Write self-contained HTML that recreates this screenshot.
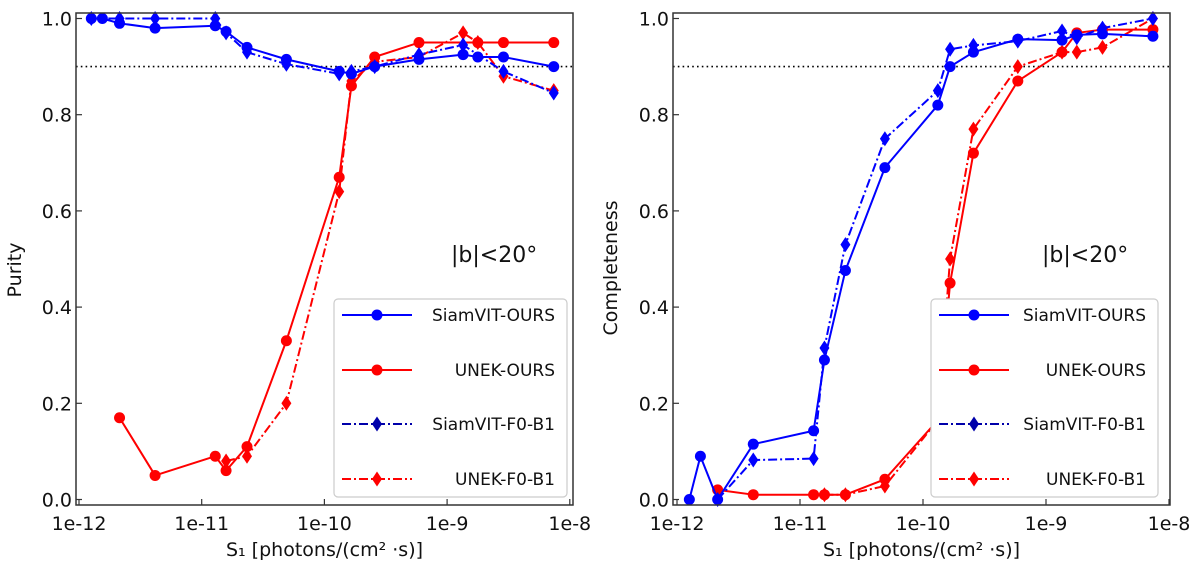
<!DOCTYPE html>
<html><head><meta charset="utf-8">
<style>
html,body{margin:0;padding:0;background:#fff;}
svg{display:block;font-family:"DejaVu Sans","Liberation Sans",sans-serif;}
</style></head>
<body>
<svg id="fig" width="1200" height="563" viewBox="0 0 1200 563" xmlns="http://www.w3.org/2000/svg"></svg>
<script>
// shared x values (flux, photons/cm^2/s)
const xVals = [1.26e-12,1.55e-12,2.14e-12,4.17e-12,1.29e-11,1.58e-11,2.34e-11,4.9e-11,1.32e-10,1.66e-10,2.57e-10,5.9e-10,1.35e-9,1.78e-9,2.88e-9,7.4e-9];
const xTickVals = [1e-12,1e-11,1e-10,1e-9,1e-8];
const xTickLabels = ["1e-12","1e-11","1e-10","1e-9","1e-8"];
const yTickVals = [0,0.2,0.4,0.6,0.8,1.0];
const yTickLabels = ["0.0","0.2","0.4","0.6","0.8","1.0"];
// Purity (left) — null = no point
const puritySiamOurs = [1.0,1.0,0.99,0.98,0.985,0.973,0.94,0.915,0.89,0.885,0.90,0.915,0.925,0.92,0.92,0.90];
const purityUnekOurs = [null,null,0.17,0.05,0.09,0.06,0.11,0.33,0.67,0.86,0.92,0.95,null,0.95,0.95,0.95];
const puritySiamF0 = [1.0,null,1.0,1.0,1.0,0.97,0.93,0.905,0.885,0.89,0.90,0.925,0.945,null,0.89,0.845];
const purityUnekF0 = [null,null,null,null,null,0.08,0.09,0.20,0.64,0.87,0.91,0.92,0.97,0.95,0.88,0.85];
// Completeness (right)
const complSiamOurs = [0.0,0.09,0.0,0.115,0.143,0.29,0.476,0.69,0.82,0.90,0.93,0.957,0.955,0.966,0.968,0.963];
const complUnekOurs = [null,null,0.02,0.01,0.01,0.01,0.01,0.042,0.165,0.45,0.72,0.87,0.93,0.97,0.977,0.977];
const complSiamF0 = [null,null,0.0,0.082,0.085,0.315,0.53,0.75,0.85,0.936,0.944,0.953,0.974,0.96,0.98,1.0];
const complUnekF0 = [null,null,null,null,null,0.01,0.01,0.028,0.165,0.50,0.77,0.90,0.93,0.93,0.94,1.0];
const threshold = 0.9;

const NS="http://www.w3.org/2000/svg";
const svg=document.getElementById('fig');
function mk(tag,attrs,parent){const e=document.createElementNS(NS,tag);for(const k in attrs)e.setAttribute(k,attrs[k]);(parent||svg).appendChild(e);return e;}

function panel(cfg){
  const g=mk('g',{});
  
  
  const L=cfg.left,R=cfg.right,T=13,B=505;
  const xs=v=>cfg.x12+(Math.log10(v)+12)*cfg.dec;
  const ys=v=>499.5-v*481;
  const th=mk('line',{x1:L,x2:R,y1:ys(threshold),y2:ys(threshold),stroke:'#000','stroke-width':1.6,'stroke-dasharray':'1.6 3.2'},g);
  
  
  const series=[
    {d:cfg.s[0],c:'#0000ff',dash:'',m:'o',n:'siamvit-ours-line'},
    {d:cfg.s[1],c:'#ff0000',dash:'',m:'o',n:'unek-ours-line'},
    {d:cfg.s[2],c:'#0000ff',dash:'9 3 2 3',m:'d',n:'siamvit-f0-b1-line'},
    {d:cfg.s[3],c:'#ff0000',dash:'9 3 2 3',m:'d',n:'unek-f0-b1-line'}];
  cfg.order.forEach(i=>{
    const s=series[i];
    const sg=mk('g',{},g);
    
    
    const pts=[];
    s.d.forEach((v,k)=>{if(v!==null)pts.push([xs(xVals[k]),ys(v)]);});
    const pl=mk('polyline',{points:pts.map(p=>p.join(',')).join(' '),fill:'none',stroke:s.c,'stroke-width':2,'stroke-dasharray':s.dash,'stroke-linejoin':'round'},sg);
    
    
    pts.forEach(p=>{
      let e;
      if(s.m==='o') e=mk('circle',{cx:p[0],cy:p[1],r:5.5,fill:s.c},sg);
      else e=mk('polygon',{points:`${p[0]},${p[1]-7.5} ${p[0]+5},${p[1]} ${p[0]},${p[1]+7.5} ${p[0]-5},${p[1]}`,fill:s.c},sg);
      
      
    });
  });
  const fr=mk('rect',{x:L,y:T,width:R-L,height:B-T,fill:'none',stroke:'#333','stroke-width':1.5},g);
  
  
  xTickVals.forEach((v,i)=>{
    const x=xs(v);
    const t=mk('line',{x1:x,x2:x,y1:B,y2:B-6,stroke:'#333','stroke-width':1.2},g);
    
    
    const tx=mk('text',{x:x,y:B+25,'font-size':19,'text-anchor':'middle',fill:'#111'},g);
    tx.textContent=xTickLabels[i];
    
    
  });
  yTickVals.forEach((v,i)=>{
    const y=ys(v);
    const t=mk('line',{x1:L,x2:L+6,y1:y,y2:y,stroke:'#333','stroke-width':1.2},g);
    
    
    const tx=mk('text',{x:L-4,y:y+7,'font-size':19,'text-anchor':'end',fill:'#111'},g);
    tx.textContent=yTickLabels[i];
    
    
  });
  const xl=mk('text',{x:(L+R)/2,y:556,'font-size':19,'text-anchor':'middle',fill:'#111'},g);
  xl.textContent='S₁ [photons/(cm² ·s)]';
  
  
  const yl=mk('text',{x:0,y:0,'font-size':19,'text-anchor':'middle',fill:'#111',transform:`translate(${cfg.ylx},${cfg.yly}) rotate(-90)`},g);
  yl.textContent=cfg.ylabel;
  
  
  const an=mk('text',{x:cfg.annX,y:262,'font-size':22,'text-anchor':'start',fill:'#111'},g);
  an.textContent='|b|<20°';
  
  
  const lg=mk('g',{},g);
  
  
  const lb=mk('rect',{x:cfg.lgX,y:299,width:cfg.lgW,height:198,rx:4,fill:'#fff',stroke:'#ccc','stroke-width':1.2},lg);
  
  
  const names=['SiamVIT-OURS','UNEK-OURS','SiamVIT-F0-B1','UNEK-F0-B1'];
  const ly=[315,370,424,479];
  const lcol=['#0000ff','#ff0000','#0000aa','#ff0000'];
  names.forEach((nm,i)=>{
    const s=series[i];
    const eg=mk('g',{},lg);
    
    
    const hx=cfg.lgX+8;
    mk('line',{x1:hx,x2:hx+70,y1:ly[i],y2:ly[i],stroke:lcol[i],'stroke-width':2,'stroke-dasharray':s.dash},eg);
    const mx=hx+35;
    if(s.m==='o') mk('circle',{cx:mx,cy:ly[i],r:5.5,fill:lcol[i]},eg);
    else mk('polygon',{points:`${mx},${ly[i]-7.5} ${mx+5},${ly[i]} ${mx},${ly[i]+7.5} ${mx-5},${ly[i]}`,fill:lcol[i]},eg);
    const t=mk('text',{x:cfg.lgX+cfg.lgW-12,y:ly[i]+6,'font-size':17,'text-anchor':'end',fill:'#111'},eg);
    t.textContent=nm;
  });
}

panel({name:'purity-panel',left:76,right:573,x12:79,dec:122.7,ylabel:'Purity',ylx:21,yly:270,annX:451,lgX:334,lgW:233,
  s:[puritySiamOurs,purityUnekOurs,puritySiamF0,purityUnekF0],order:[1,3,2,0]});
panel({name:'completeness-panel',left:673,right:1170,x12:677,dec:123,ylabel:'Completeness',ylx:617,yly:268,annX:1042,lgX:931,lgW:227,
  s:[complSiamOurs,complUnekOurs,complSiamF0,complUnekF0],order:[1,3,2,0]});
</script>
</body></html>
